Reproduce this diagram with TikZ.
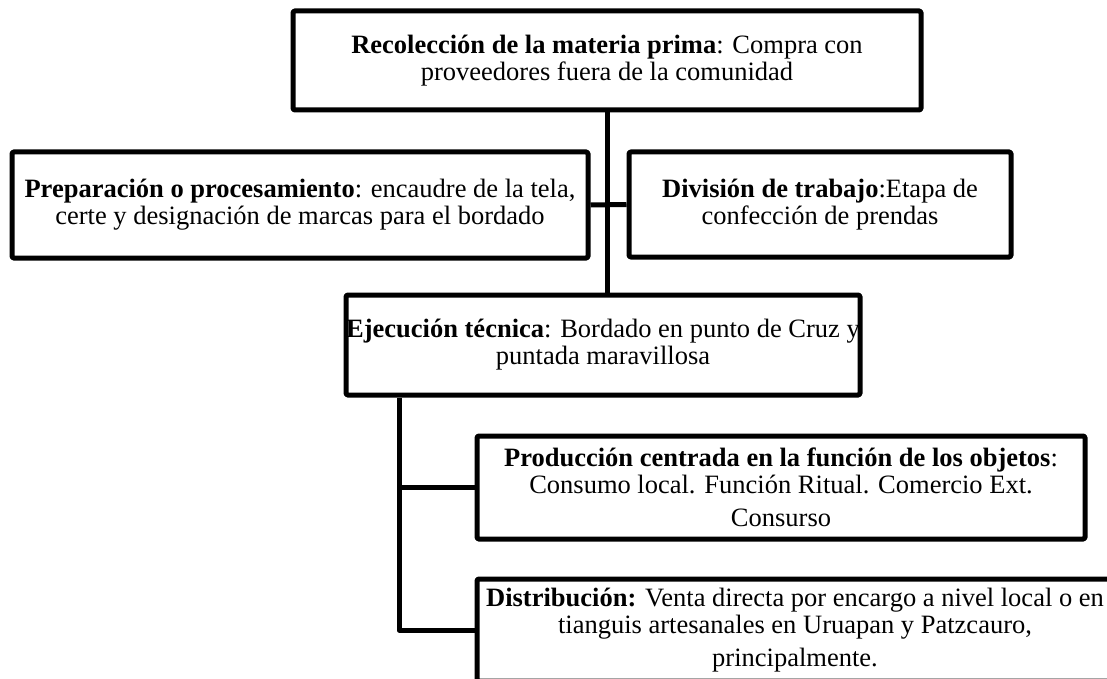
\documentclass[tikz,border=0pt]{standalone}
\usepackage{fontspec}
\setmainfont{Liberation Serif}
\usetikzlibrary{calc}

\begin{document}
\begin{tikzpicture}[x=1pt,y=-1pt,line join=round,
    caja/.style={draw,line width=5pt,rounded corners=1.5pt,align=center,inner sep=0pt,
      font=\fontsize{26.5}{27}\selectfont},
    linea/.style={line width=5pt}]
    \useasboundingbox (0,0) rectangle (1107,679);
    \clip (0,0) rectangle (1107,679);
    % cajas
    \node[caja,minimum width=628pt,minimum height=99pt] (recol) at (607,60.5)
      {\textbf{Recolección de la materia prima}: Compra con\\proveedores fuera de la comunidad};
    \node[caja,minimum width=576pt,minimum height=106pt] (prep) at (300,205)
      {\textbf{Preparación o procesamiento}: encaudre de la tela,\\certe y designación de marcas para el bordado};
    \node[caja,minimum width=382pt,minimum height=105pt] (divis) at (820,204.5)
      {\textbf{División de trabajo}:Etapa de\\confección de prendas};
    \node[caja,minimum width=514pt,minimum height=100pt] (ejec) at (603,345)
      {\textbf{Ejecución técnica}: Bordado en punto de Cruz y\\puntada maravillosa};
    \node[caja,minimum width=608pt,minimum height=103pt] (prod) at (781,487.5)
      {\textbf{Producción centrada en la función de los objetos}:\\Consumo local. Función Ritual. Comercio Ext.\\[6pt]Consurso};
    \node[caja,minimum width=636pt,minimum height=102pt] (distr) at (795,630)
      {\textbf{Distribución:} Venta directa por encargo a nivel local o en\\tianguis artesanales en Uruapan y Patzcauro,\\[6pt]principalmente.};
    % conectores
    \coordinate (rama) at (399,0);
    \draw[linea] (recol.south) -- (recol.south |- ejec.north);
    \draw[linea] (prep.east) -- (divis.west);
    \draw[linea] (ejec.south -| rama) -- (distr.west -| rama) -- (distr.west);
    \draw[linea] (prod.west -| rama) -- (prod.west);
\end{tikzpicture}
\end{document}
